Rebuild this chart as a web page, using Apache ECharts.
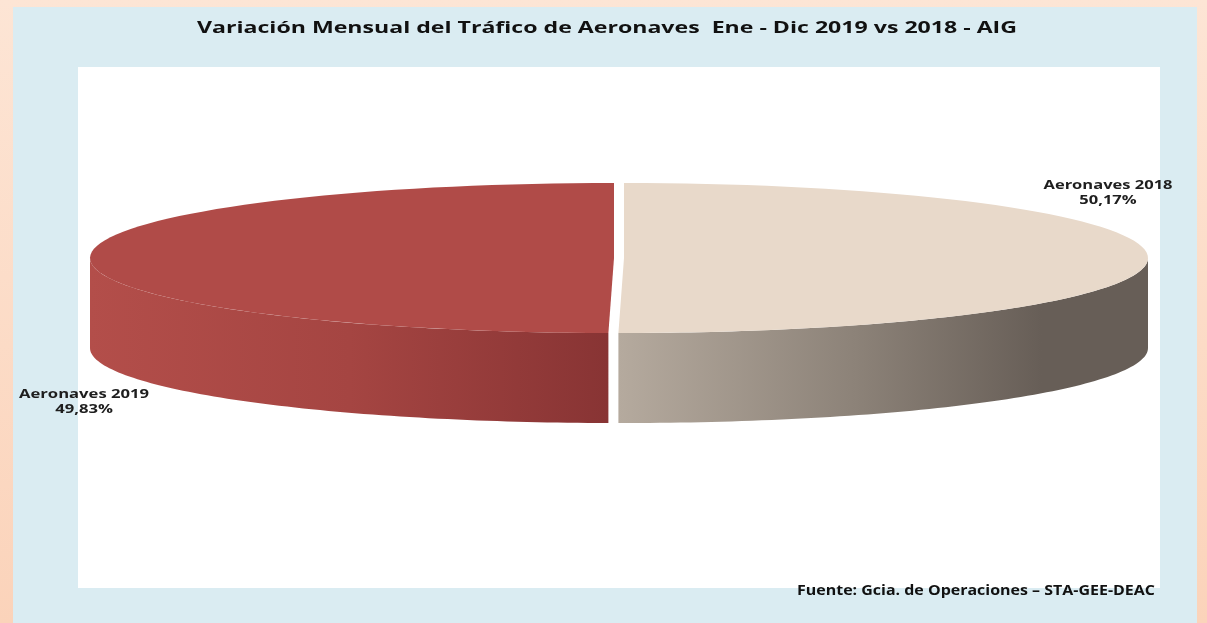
<!DOCTYPE html>
<html>
<head>
<meta charset="utf-8">
<script src="https://cdn.jsdelivr.net/npm/echarts@6/dist/echarts.min.js"></script>
<style>
  html, body { margin: 0; padding: 0; }
  #pieChart { width: 1207px; height: 623px; }
</style>
</head>
<body>
<div id="pieChart"></div>
<script>
// datos del gráfico
var categories = ['Aeronaves 2018', 'Aeronaves 2019'];
var shares = [50.17, 49.83];
var topColors = ['#e8d9ca', '#b04b48'];

var titleText = 'Variación Mensual del Tráfico de Aeronaves  Ene - Dic 2019 vs 2018 - AIG';
var sourceText = 'Fuente: Gcia. de Operaciones – STA-GEE-DEAC';

// colores del lateral (efecto 3D)
var sideColors = [
  [['#b5aa9e', 0], ['#8c8278', 0.45], ['#675e57', 0.8], ['#675e57', 1]],
  [['#b34e4a', 0], ['#a54542', 0.5], ['#883434', 1]]
];

var total = shares.reduce(function (a, b) { return a + b; }, 0);

function fmtPct(v) {
  return (v / total * 100).toFixed(2).replace('.', ',') + '%';
}

// el texto del original sale estirado en horizontal: se mide y se escala
var measureCtx = document.createElement('canvas').getContext('2d');
function stretch(text, font, width) {
  measureCtx.font = font;
  return width / measureCtx.measureText(text).width;
}

var titleFont = 'bold 15.5px "Open Sans"';
var labelFont = 'bold 12.5px "Open Sans"';
var sourceFont = 'bold 14px "Open Sans"';

var chart = echarts.init(document.getElementById('pieChart'));

function renderSlice(params, api) {
  var i = params.dataIndex;
  var cx = 619, cy = 258, rx = 524, ry = 75, depth = 90, explode = 5;
  var before = 0;
  for (var k = 0; k < i; k++) before += shares[k];
  var a0 = before / total * Math.PI * 2;
  var a1 = (before + api.value(0)) / total * Math.PI * 2;
  var mid = (a0 + a1) / 2;
  var ox = explode * Math.sin(mid);
  var oy = -explode * Math.cos(mid) * ry / rx;
  function pt(t, dy) {
    return [cx + ox + rx * Math.sin(t), cy + oy - ry * Math.cos(t) + (dy || 0)];
  }
  var steps = 80;
  var top = [[cx + ox, cy + oy]];
  for (var s = 0; s <= steps; s++) top.push(pt(a0 + (a1 - a0) * s / steps));

  var children = [];
  var w0 = Math.max(a0, Math.PI / 2), w1 = Math.min(a1, Math.PI * 1.5);
  if (w0 < w1) {
    var wall = [];
    for (var s2 = 0; s2 <= steps; s2++) wall.push(pt(w0 + (w1 - w0) * s2 / steps));
    for (var s3 = steps; s3 >= 0; s3--) wall.push(pt(w0 + (w1 - w0) * s3 / steps, depth));
    children.push({
      type: 'polygon',
      z2: 1,
      shape: { points: wall },
      style: {
        fill: {
          type: 'linear',
          x: 0, y: 0, x2: 1, y2: 0,
          colorStops: sideColors[i].map(function (c) { return { offset: c[1], color: c[0] }; })
        },
        stroke: null
      }
    });
  }
  children.push({
    type: 'polygon',
    z2: 2,
    shape: { points: top },
    style: { fill: topColors[i], stroke: null }
  });

  // etiquetas fuera del sector
  var labelPos = i === 0 ? [1108, 193] : [84, 402];
  var labelW = i === 0 ? 129 : 130;
  children.push({
    type: 'text',
    z2: 3,
    x: labelPos[0],
    y: labelPos[1],
    scaleX: stretch(categories[i], labelFont, labelW),
    style: {
      text: categories[i] + '\n' + fmtPct(api.value(0)),
      fill: '#1e1e1e',
      font: labelFont,
      align: 'center',
      verticalAlign: 'middle',
      lineHeight: 15
    }
  });
  return { type: 'group', children: children };
}

var options = {
  animation: false,
  backgroundColor: {
    type: 'linear', x: 0, y: 0, x2: 0, y2: 1,
    colorStops: [{ offset: 0, color: '#fde5d5' }, { offset: 1, color: '#fbd3ba' }]
  },
  graphic: [
    { type: 'rect', z: -10, shape: { x: 13, y: 7, width: 1184, height: 620 }, style: { fill: '#daecf2' } },
    { type: 'rect', z: -9, shape: { x: 78, y: 67, width: 1082, height: 521 }, style: { fill: '#ffffff' } },
    {
      type: 'text', z: 5, x: 607, y: 29,
      scaleX: stretch(titleText, titleFont, 820),
      style: { text: titleText, font: titleFont, fill: '#111', align: 'center', verticalAlign: 'middle' }
    },
    {
      type: 'text', z: 5, x: 976, y: 591,
      scaleX: stretch(sourceText, sourceFont, 358),
      style: { text: sourceText, font: sourceFont, fill: '#111', align: 'center', verticalAlign: 'middle' }
    }
  ],
  series: [
    {
      type: 'custom',
      coordinateSystem: 'none',
      renderItem: renderSlice,
      data: shares.map(function (v, i) { return { name: categories[i], value: [v] }; })
    }
  ]
};

chart.setOption(options);
</script>
</body>
</html>
